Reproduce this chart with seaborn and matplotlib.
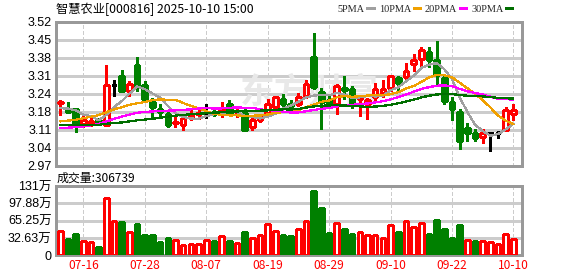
import numpy as np
import pandas as pd
import matplotlib
matplotlib.use("Agg")
import matplotlib.pyplot as plt
import seaborn as sns
from matplotlib.lines import Line2D

# ---------------- data ----------------
dates = ["07-11", "07-14", "07-15", "07-16", "07-17", "07-18", "07-21", "07-22", "07-23", "07-24",
         "07-25", "07-28", "07-29", "07-30", "07-31", "08-01", "08-04", "08-05", "08-06", "08-07",
         "08-08", "08-11", "08-12", "08-13", "08-14", "08-15", "08-18", "08-19", "08-20", "08-21",
         "08-22", "08-25", "08-26", "08-27", "08-28", "08-29", "09-01", "09-02", "09-03", "09-04",
         "09-05", "09-08", "09-09", "09-10", "09-11", "09-12", "09-15", "09-16", "09-17", "09-18",
         "09-19", "09-22", "09-23", "09-24", "09-25", "09-26", "09-29", "09-30", "10-09", "10-10"]

opens = [3.212, 3.188, 3.186, 3.129, 3.134, 3.144, 3.128, 3.277, 3.314, 3.257,
         3.356, 3.278, 3.215, 3.186, 3.167, 3.133, 3.126, 3.152, 3.170, 3.174,
         3.176, 3.171, 3.205, 3.175, 3.173, 3.117, 3.144, 3.171, 3.196, 3.224,
         3.205, 3.205, 3.236, 3.387, 3.253, 3.220, 3.207, 3.266, 3.265, 3.227,
         3.207, 3.232, 3.249, 3.268, 3.306, 3.310, 3.359, 3.378, 3.404, 3.375,
         3.306, 3.215, 3.176, 3.114, 3.095, 3.079, 3.095, 3.097, 3.108, 3.167]
highs = [3.222, 3.215, 3.188, 3.163, 3.157, 3.154, 3.356, 3.296, 3.334, 3.295,
         3.385, 3.293, 3.230, 3.205, 3.179, 3.160, 3.167, 3.182, 3.192, 3.205,
         3.186, 3.215, 3.220, 3.186, 3.190, 3.152, 3.167, 3.224, 3.236, 3.246,
         3.220, 3.249, 3.296, 3.476, 3.268, 3.245, 3.283, 3.312, 3.274, 3.232,
         3.230, 3.287, 3.296, 3.318, 3.314, 3.362, 3.397, 3.423, 3.422, 3.448,
         3.318, 3.232, 3.186, 3.132, 3.110, 3.110, 3.097, 3.104, 3.195, 3.205]
lows = [3.165, 3.176, 3.098, 3.117, 3.123, 3.132, 3.128, 3.236, 3.253, 3.236,
        3.255, 3.215, 3.154, 3.154, 3.117, 3.117, 3.108, 3.144, 3.148, 3.154,
        3.160, 3.157, 3.167, 3.157, 3.106, 3.108, 3.139, 3.167, 3.186, 3.190,
        3.190, 3.198, 3.230, 3.265, 3.110, 3.195, 3.170, 3.225, 3.190, 3.160,
        3.148, 3.215, 3.232, 3.255, 3.253, 3.296, 3.331, 3.346, 3.346, 3.278,
        3.207, 3.144, 3.034, 3.064, 3.064, 3.056, 3.026, 3.076, 3.108, 3.144]
closes = [3.215, 3.176, 3.125, 3.144, 3.142, 3.135, 3.277, 3.277, 3.255, 3.284,
          3.275, 3.224, 3.195, 3.176, 3.125, 3.136, 3.154, 3.163, 3.173, 3.174,
          3.170, 3.188, 3.170, 3.177, 3.106, 3.144, 3.157, 3.205, 3.234, 3.205,
          3.198, 3.234, 3.283, 3.272, 3.215, 3.195, 3.274, 3.258, 3.202, 3.230,
          3.221, 3.265, 3.265, 3.312, 3.287, 3.333, 3.373, 3.413, 3.375, 3.318,
          3.217, 3.186, 3.066, 3.095, 3.076, 3.095, 3.095, 3.097, 3.184, 3.184]

# volume in 万 shares, and its colour flag (1 = red / up, 0 = green / down)
volumes = [45.8, 30.7, 40.2, 27.0, 25.1, 15.7, 107.3, 64.0, 62.7, 43.9,
           59.0, 38.3, 38.3, 25.1, 32.6, 28.2, 18.8, 21.3, 21.3, 28.2,
           27.0, 35.8, 27.0, 22.6, 43.9, 32.0, 37.6, 58.4, 45.2, 38.3,
           36.4, 48.9, 64.0, 121.1, 89.1, 42.0, 60.2, 49.6, 40.2, 43.3,
           37.6, 37.6, 32.0, 56.5, 43.9, 64.0, 52.7, 60.2, 40.2, 66.5,
           49.6, 32.6, 57.1, 28.2, 27.0, 26.4, 25.1, 20.7, 39.5, 30.6739]
vol_up = [1, 0, 0, 1, 1, 0, 1, 1, 0, 1,
          0, 0, 0, 0, 0, 1, 1, 1, 1, 1,
          0, 1, 0, 1, 0, 1, 1, 1, 1, 0,
          0, 1, 1, 0, 0, 0, 1, 0, 0, 1,
          1, 1, 1, 1, 0, 1, 1, 1, 0, 0,
          0, 0, 0, 1, 0, 1, 1, 1, 1, 1]

# moving-average values before enough in-window history exists
ma5_head = [3.190, 3.189, 3.182, 3.166]
ma10_head = [3.140, 3.143, 3.146, 3.152, 3.158, 3.164, 3.175, 3.186, 3.194]
ma20_head = [3.114, 3.116, 3.118, 3.121, 3.125, 3.130, 3.140, 3.150, 3.158, 3.166,
             3.173, 3.176, 3.178, 3.180, 3.181, 3.182, 3.184, 3.186, 3.189]
ma30_head = [3.125, 3.125, 3.125, 3.125, 3.126, 3.127, 3.131, 3.134, 3.136, 3.140,
             3.144, 3.147, 3.150, 3.154, 3.158, 3.162, 3.165, 3.167, 3.169, 3.171,
             3.173, 3.175, 3.177, 3.178, 3.179, 3.180, 3.181, 3.182, 3.184]

ma_names = ["5PMA", "10PMA", "20PMA", "30PMA"]
ma_colors = ["#a0a0a0", "#f0a000", "#ff00ff", "#006e00"]

price_tick_labels = ["2.97", "3.04", "3.11", "3.18", "3.24", "3.31", "3.38", "3.45", "3.52"]
vol_tick_labels = ["0", "32.63万", "65.25万", "97.88万", "131万"]
date_ticks = ["07-16", "07-28", "08-07", "08-19", "08-29", "09-10", "09-22", "10-10"]
title_text = "智慧农业[000816] 2025-10-10 15:00"
vol_title = "成交量:306739"
watermark = "东方财富"

# ---------------- styling ----------------
sns.set_theme(style="white")
plt.rcParams["font.family"] = ["Liberation Sans", "Noto Sans CJK SC"]
plt.rcParams["lines.antialiased"] = False
plt.rcParams["patch.antialiased"] = False

RED, GREEN, BLACK = "#ff0000", "#008000", "#000000"
GRID, BORDER = "#cccccc", "#999999"

n = len(dates)
x = np.arange(n)
o, h, l, c = map(np.array, (opens, highs, lows, closes))
vol = np.array(volumes)
vup = np.array(vol_up).astype(bool)

cs = pd.Series(c)
heads = [ma5_head, ma10_head, ma20_head, ma30_head]
rows = []
for name, win, head in zip(ma_names, [5, 10, 20, 30], heads):
    m = cs.rolling(win).mean().to_numpy()
    m[: len(head)] = head
    rows.append(pd.DataFrame({"x": x, "value": m, "ma": name}))
ma_df = pd.concat(rows, ignore_index=True)

W_PX, H_PX = 578, 276
fig = plt.figure(figsize=(W_PX / 100, H_PX / 100), dpi=100)
fig.patch.set_facecolor("white")

left, right = 55.7, 522.3
p_top, p_bot = 21.7, 166.0
v_top, v_bot = 186.0, 255.3
axp = fig.add_axes([left / W_PX, 1 - p_bot / H_PX, (right - left) / W_PX, (p_bot - p_top) / H_PX])
axv = fig.add_axes([left / W_PX, 1 - v_bot / H_PX, (right - left) / W_PX, (v_bot - v_top) / H_PX])

xlim = (-0.6, 60.16)
for ax in (axp, axv):
    ax.set_facecolor("white")
    ax.set_xlim(*xlim)
    for s in ax.spines.values():
        s.set_color(BORDER)
        s.set_linewidth(1.0)
        s.set_visible(True)
    ax.set_axisbelow(True)

# ---------------- price panel ----------------
pmin, pmax = float(price_tick_labels[0]), float(price_tick_labels[-1])
axp.set_ylim(pmin, pmax)
pt = np.linspace(pmin, pmax, len(price_tick_labels))
axp.set_yticks(pt)
axp.set_yticklabels(price_tick_labels)
axp.set_xticks([])
for y in pt[1:-1]:
    axp.axhline(y, color=GRID, lw=0.75, zorder=0.5)
tick_pos = [dates.index(d) for d in date_ticks]
for ax in (axp, axv):
    for tp in tick_pos:
        ax.axvline(tp, color=GRID, lw=0.75, ls=(0, (3, 2.5)), zorder=0.5)

axp.text((240 - left) / (right - left), (p_bot - 92) / (p_bot - p_top), watermark,
         transform=axp.transAxes, fontsize=25, color="#e8e8e8", ha="left", va="center",
         family=["Noto Sans CJK SC"], fontweight="bold", zorder=0.8)

up = c > o
dn = c < o
fl = c == o
bw = 0.6
for mask, col, face in [(up, RED, "white"), (dn, GREEN, GREEN)]:
    axp.vlines(x[mask], l[mask], h[mask], color=col, lw=1.0, zorder=2)
    axp.bar(x[mask], np.abs(c - o)[mask], bottom=np.minimum(o, c)[mask], width=bw,
            facecolor=face, edgecolor=col, linewidth=1.0, zorder=3)
axp.vlines(x[fl], l[fl], h[fl], color=BLACK, lw=1.0, zorder=2)
axp.hlines(c[fl], x[fl] - bw / 2, x[fl] + bw / 2, color=BLACK, lw=1.0, zorder=3)

sns.lineplot(data=ma_df, x="x", y="value", hue="ma", palette=dict(zip(ma_names, ma_colors)),
             estimator=None, errorbar=None, legend=False, linewidth=0.9, ax=axp,
             zorder=4, antialiased=False)
axp.set_xlabel("")
axp.set_ylabel("")
axp.set_xlim(*xlim)

# ---------------- volume panel ----------------
vmax = 130.52
axv.set_ylim(0, vmax)
vt = np.linspace(0, vmax, len(vol_tick_labels))
axv.set_yticks(vt)
axv.set_yticklabels(vol_tick_labels)
for y in vt[1:-1]:
    axv.axhline(y, color=GRID, lw=0.75, zorder=0.5)
axv.bar(x[vup], vol[vup], width=bw, facecolor="white", edgecolor=RED, linewidth=1.0, zorder=3)
axv.bar(x[~vup], vol[~vup], width=bw, facecolor=GREEN, edgecolor=GREEN, linewidth=1.0, zorder=3)
axv.set_xticks(tick_pos)
axv.set_xticklabels(date_ticks, color=RED, fontsize=8.6, family=["Noto Sans CJK SC"])

for ax in (axp, axv):
    ax.tick_params(axis="y", length=0, pad=3.0, labelsize=9, colors="#000000")
    ax.tick_params(axis="x", length=0, pad=3.0)
    ax.grid(False)
for lab in axv.get_yticklabels():
    lab.set_family(["Liberation Sans", "Noto Sans CJK SC"])

# ---------------- texts & legend ----------------
fig.text(left / W_PX, 1 - 9 / H_PX, title_text, ha="left", va="center", fontsize=8.8,
         family=["Noto Sans CJK SC"], color="#000000")
fig.text(57 / W_PX, 1 - 178 / H_PX, vol_title, ha="left", va="center", fontsize=8.6,
         family=["Noto Sans CJK SC"], color="#000000")

handles = [Line2D([], [], color=col, lw=1.8) for col in ma_colors]
fig.legend(handles, ma_names, ncol=4, markerfirst=False, loc="center right",
           bbox_to_anchor=(512 / W_PX, 1 - 9 / H_PX), frameon=False,
           handlelength=0.6, handletextpad=0.25, columnspacing=0.5,
           borderpad=0, borderaxespad=0, prop={"family": "Liberation Serif", "size": 7.4})

fig.savefig("out.png", dpi=100, facecolor="white")
